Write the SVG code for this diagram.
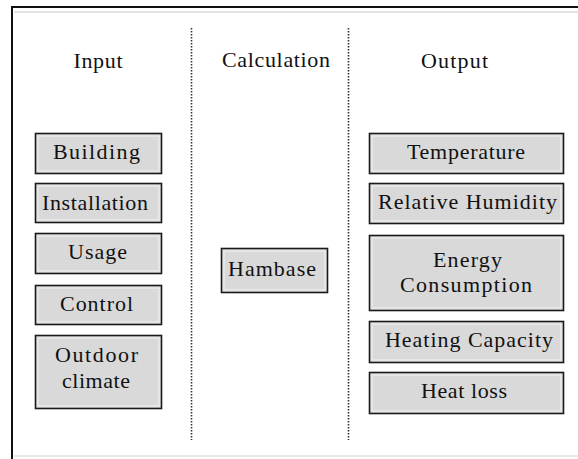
<svg xmlns="http://www.w3.org/2000/svg" width="578" height="459" viewBox="0 0 578 459">
<style>
.box{fill:#d9d9d9;stroke:#1a1a1a;stroke-width:1.6}
.inner{fill:none;stroke:#f2f2f2;stroke-width:1}
.t{font-family:"Liberation Serif","Times New Roman",serif;font-size:22px;fill:#111;text-anchor:middle}
.frame{stroke:#111;stroke-width:2;fill:none}
.dot{stroke:#333;stroke-width:1.6;stroke-dasharray:1.5 1.5;fill:none}
</style>
<rect width="578" height="459" fill="#ffffff"/>
<g id="frame">
<line class="frame" x1="11" y1="7" x2="578" y2="7"/>
<line class="frame" x1="12" y1="6" x2="12" y2="459"/>
<line x1="14" y1="12" x2="578" y2="12" stroke="#e4e4e4" stroke-width="2"/>
<line x1="14" y1="456" x2="578" y2="456" stroke="#e8e8e8" stroke-width="2"/>
</g>
<g id="dividers">
<line class="dot" x1="191.5" y1="28" x2="191.5" y2="440"/>
<line class="dot" x1="348.5" y1="28" x2="348.5" y2="440"/>
</g>
<g id="headers">
<text class="t" x="98" y="68" textLength="49" lengthAdjust="spacing">Input</text>
<text class="t" x="276" y="67" textLength="108" lengthAdjust="spacing">Calculation</text>
<text class="t" x="454.5" y="68" textLength="67" lengthAdjust="spacing">Output</text>
</g>
<g id="connectors"></g>
<g id="building">
<rect class="box" x="35.5" y="133.5" width="126" height="40"/>
<rect class="inner" x="38" y="136" width="121" height="35"/>
<text class="t" x="96.5" y="159" textLength="87" lengthAdjust="spacing">Building</text>
</g>
<g id="installation">
<rect class="box" x="35.5" y="183.5" width="126" height="39"/>
<rect class="inner" x="38" y="186" width="121" height="34"/>
<text class="t" x="95" y="210" textLength="106" lengthAdjust="spacing">Installation</text>
</g>
<g id="usage">
<rect class="box" x="35.5" y="233.5" width="126" height="40"/>
<rect class="inner" x="38" y="236" width="121" height="35"/>
<text class="t" x="97.5" y="259" textLength="59" lengthAdjust="spacing">Usage</text>
</g>
<g id="control">
<rect class="box" x="35.5" y="285.5" width="126" height="39"/>
<rect class="inner" x="38" y="288" width="121" height="34"/>
<text class="t" x="96.5" y="311" textLength="73" lengthAdjust="spacing">Control</text>
</g>
<g id="outdoor">
<rect class="box" x="35.5" y="335.5" width="126" height="73"/>
<rect class="inner" x="38" y="338" width="121" height="68"/>
<text class="t" x="96.5" y="362" textLength="83" lengthAdjust="spacing">Outdoor</text>
<text class="t" x="96" y="388" textLength="68" lengthAdjust="spacing">climate</text>
</g>
<g id="hambase">
<rect class="box" x="221.5" y="248.5" width="106" height="44"/>
<rect class="inner" x="224" y="251" width="101" height="39"/>
<text class="t" x="272" y="276" textLength="88" lengthAdjust="spacing">Hambase</text>
</g>
<g id="temperature">
<rect class="box" x="369.5" y="133.5" width="194" height="40"/>
<rect class="inner" x="372" y="136" width="189" height="35"/>
<text class="t" x="466" y="159" textLength="118" lengthAdjust="spacing">Temperature</text>
</g>
<g id="humidity">
<rect class="box" x="369.5" y="183.5" width="194" height="40"/>
<rect class="inner" x="372" y="186" width="189" height="35"/>
<text class="t" x="467.5" y="209" textLength="179" lengthAdjust="spacing">Relative Humidity</text>
</g>
<g id="energy">
<rect class="box" x="369.5" y="235.5" width="194" height="75"/>
<rect class="inner" x="372" y="238" width="189" height="70"/>
<text class="t" x="467.5" y="267" textLength="69" lengthAdjust="spacing">Energy</text>
<text class="t" x="466" y="292" textLength="132" lengthAdjust="spacing">Consumption</text>
</g>
<g id="heating">
<rect class="box" x="369.5" y="321.5" width="194" height="41"/>
<rect class="inner" x="372" y="324" width="189" height="36"/>
<text class="t" x="469" y="347" textLength="168" lengthAdjust="spacing">Heating Capacity</text>
</g>
<g id="heatloss">
<rect class="box" x="369.5" y="372.5" width="194" height="41"/>
<rect class="inner" x="372" y="375" width="189" height="36"/>
<text class="t" x="464" y="398" textLength="86" lengthAdjust="spacing">Heat loss</text>
</g>
</svg>
